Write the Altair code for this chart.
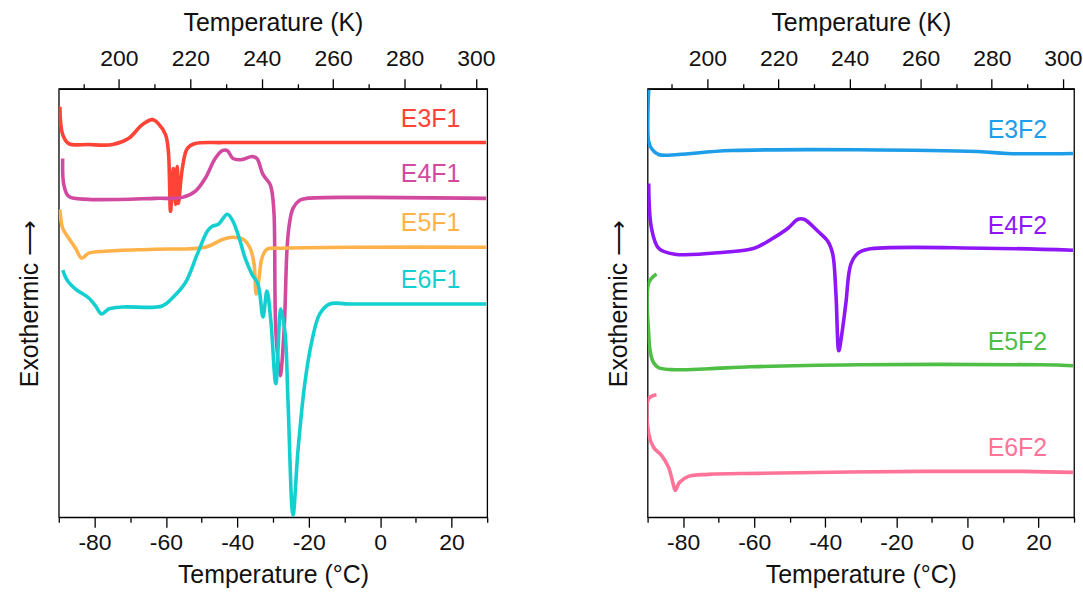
import altair as alt
import pandas as pd

FONT = "Liberation Sans"

# ---- DSC traces, temperature in degC, heat flow in arbitrary units ----
# panel 1
e3f1_t = [-89.7, -88.9, -87.2, -81.6, -74.9, -70.5, -66.6, -63.8, -62.1, -60.1, -59.3,
          -58.7, -57.9, -57.3, -56.8, -56.5, -55.4, -54.0, -51.8, -44.2, -29.4, 29.7]
e3f1_h = [412, 384, 375, 374, 374, 380, 394, 399, 395, 384, 367,
          307, 350, 314, 352, 315, 350, 370, 375, 376, 376, 376]

e4f1_t = [-88.9, -88.6, -87.2, -81.6, -62.9, -55.4, -51.8, -49.0, -46.2, -44.2, -42.8,
          -41.2, -38.6, -35.9, -34.5, -32.8, -30.8, -30.3, -29.7, -29.2, -28.0, -26.9,
          -26.1, -25.5, -24.4, -22.5, -20.5, -5.7, 29.7]
e4f1_h = [360, 334, 322, 319, 320, 321, 327, 340, 360, 368, 368,
          360, 359, 362, 360, 344, 334, 327, 304, 187, 142, 187,
          267, 292, 310, 318, 320, 321, 320]

e5f1_t = [-89.7, -88.9, -87.2, -85.3, -83.6, -81.6, -76.9, -62.9, -49.0, -44.0, -41.2,
          -38.4, -36.4, -35.3, -34.7, -33.9, -33.1, -31.7, -28.0, -5.7, 29.7]
e5f1_h = [309, 290, 280, 270, 260, 265, 267, 269, 271, 279, 281,
          279, 270, 254, 224, 240, 260, 269, 270, 271, 271]

e6f1_t = [-88.9, -87.5, -85.3, -81.6, -79.7, -78.0, -76.0, -72.1, -61.0, -58.2, -54.6,
          -51.2, -48.4, -47.0, -45.3, -42.8, -41.2, -39.2, -37.8, -35.9, -34.2, -32.8,
          -31.7, -30.6, -29.2, -27.8, -26.6, -25.8, -24.4, -23.0, -21.1, -19.1, -16.9,
          -14.1, -8.5, 29.7]
e6f1_h = [248, 237, 229, 220, 212, 204, 209, 211, 212, 220, 235,
          264, 287, 292, 294, 304, 297, 277, 260, 244, 234, 201,
          227, 197, 134, 209, 184, 117, 2, 67, 134, 177, 204,
          214, 214, 214]

# panel 2
e3f2_t = [-89.7, -89.7, -88.9, -86.9, -81.3, -66.5, 2.8, 11.2, 29.7]
e3f2_h = [429, 377, 370, 364, 364, 368, 367, 365, 365]

e4f2_t = [-89.7, -88.9, -86.9, -82.4, -68.4, -60.0, -55.2, -50.5, -47.7, -46.0, -42.1,
          -39.3, -37.9, -37.0, -36.2, -35.3, -34.2, -32.8, -30.8, -28.0, 4.5, 29.7]
e4f2_h = [335, 290, 270, 264, 266, 270, 279, 290, 299, 299, 287,
          277, 264, 224, 167, 185, 215, 254, 265, 269, 270, 268]

e5f2_t = [-87.5, -89.7, -89.7, -89.2, -88.3, -86.9, -82.4, -72.9, -60.8, -30.8, 20.5, 29.7]
e5f2_h = [244, 235, 184, 165, 155, 150, 148, 149, 151, 153, 153, 152]

e6f2_t = [-87.5, -89.7, -89.7, -88.3, -86.1, -84.1, -82.7, -82.2, -81.0, -78.5, -72.9,
          -58.9, -12.3, 15.7, 29.7]
e6f2_h = [123, 119, 84, 70, 62, 50, 32, 27, 35, 41, 43,
          44, 46, 46, 45]

panel1 = [("E3F1", e3f1_t, e3f1_h), ("E4F1", e4f1_t, e4f1_h),
          ("E5F1", e5f1_t, e5f1_h), ("E6F1", e6f1_t, e6f1_h)]
panel2 = [("E3F2", e3f2_t, e3f2_h), ("E4F2", e4f2_t, e4f2_h),
          ("E5F2", e5f2_t, e5f2_h), ("E6F2", e6f2_t, e6f2_h)]

series_names = ["E3F1", "E4F1", "E5F1", "E6F1", "E3F2", "E4F2", "E5F2", "E6F2"]
series_colors = ["#FF4336", "#D24AA0", "#FFB24A", "#14CFCF",
                 "#1E9DE8", "#8E16F7", "#4EBE45", "#FF7398"]

celsius_ticks = [-90, -80, -70, -60, -50, -40, -30, -20, -10, 0, 10, 20, 30]
kelvin_ticks = [190, 200, 210, 220, 230, 240, 250, 260, 270, 280, 290, 300]
c_domain = [-90, 30]
k_domain = [c_domain[0] + 273.15, c_domain[1] + 273.15]
h_domain = [0, 430]

color_scale = alt.Scale(domain=series_names, range=series_colors)
major_test = "datum.value % 20 === 0"
# plain hyphen-minus labels, minor ticks unlabelled
label_expr = f"{major_test} ? ('' + datum.value) : ''"
tick_size = {"condition": {"test": major_test, "value": 10}, "value": 5}


def panel(series, width, height):
    rows, ends = [], []
    for name, t, h in series:
        for i, (ti, hi) in enumerate(zip(t, h)):
            rows.append({"series": name, "T": ti, "H": hi, "idx": i})
        ends.append({"series": name, "H": h[-1]})
    df = pd.DataFrame(rows)
    ends_df = pd.DataFrame(ends)

    x_axis = alt.Axis(
        title="Temperature (°C)", values=celsius_ticks, orient="bottom",
        labelExpr=label_expr, tickSize=tick_size,
        labelPadding=4, titlePadding=9, grid=False,
    )
    y_axis = alt.Axis(title="Exothermic ⟶", labels=False, ticks=False,
                      domain=False, grid=False, titlePadding=16)

    lines = alt.Chart(df).mark_line(
        strokeWidth=3.6, interpolate="catmull-rom", clip=True
    ).encode(
        x=alt.X("T:Q", scale=alt.Scale(domain=c_domain, nice=False, zero=False), axis=x_axis),
        y=alt.Y("H:Q", scale=alt.Scale(domain=h_domain, nice=False, zero=False), axis=y_axis),
        color=alt.Color("series:N", scale=color_scale, legend=None),
        order="idx:Q",
        detail="series:N",
    )

    labels = alt.Chart(ends_df).mark_text(
        align="right", baseline="middle", dy=-24, font=FONT, fontSize=25
    ).encode(
        x=alt.value(width - 27),
        y=alt.Y("H:Q", scale=alt.Scale(domain=h_domain, nice=False, zero=False)),
        text="series:N",
        color=alt.Color("series:N", scale=color_scale, legend=None),
    )

    top = alt.Chart(pd.DataFrame({"K": k_domain})).mark_point(opacity=0).encode(
        x=alt.X("K:Q", scale=alt.Scale(domain=k_domain, nice=False, zero=False),
                axis=alt.Axis(
                    title="Temperature (K)", orient="top", values=kelvin_ticks,
                    labelExpr=label_expr, tickSize=tick_size,
                    labelPadding=8, titlePadding=12, grid=False,
                )),
    )

    return alt.layer(lines, labels, top).resolve_scale(x="independent").properties(
        width=width, height=height
    )


left = panel(panel1, 430, 430)
right = panel(panel2, 428, 430)

chart = alt.hconcat(left, right, spacing=110).properties(
    padding={"left": 17, "top": 9, "right": 0, "bottom": 5}
).configure_view(
    stroke="black", strokeWidth=1.3
).configure_axis(
    labelFont=FONT, titleFont=FONT, labelFontSize=23, titleFontSize=25,
    labelColor="#111", titleColor="#111", titleFontWeight="normal",
    domainColor="black", domainWidth=1.3, tickColor="black", tickWidth=1.3,
)

chart.save("out.html", embed_options={"renderer": "svg", "actions": False})
